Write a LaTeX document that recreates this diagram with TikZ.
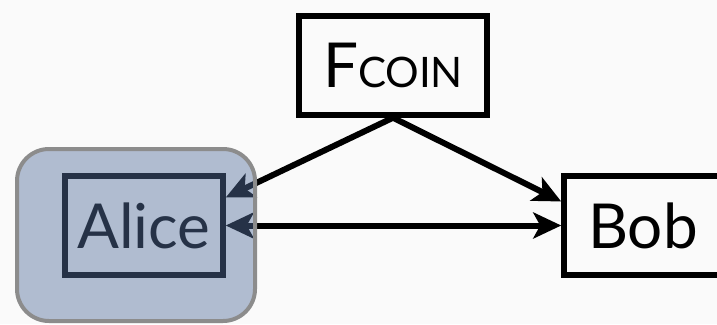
\documentclass[tikz,border=0pt]{standalone}
\usepackage{fontspec}
\setmainfont{Lato}
\usetikzlibrary{arrows.meta, positioning}

\definecolor{corruptblue}{RGB}{86,113,158}

\begin{document}
\begin{tikzpicture}[
    x=1pt, y=-1pt,
    party/.style={
        draw, rectangle, line width=5.5pt,
        minimum width=158pt, minimum height=99pt,
        inner sep=0pt, font=\fontsize{62}{62}\selectfont
    },
    func/.style={party, minimum width=188pt},
    corrupt/.style={
        draw=black!45, line width=4pt,
        fill=corruptblue, fill opacity=0.45,
        rectangle, rounded corners=32pt,
        minimum width=238pt, minimum height=172pt
    },
    msg/.style={
        line width=6pt,
        {Stealth[length=28pt, width=26pt, inset=7pt]}-{Stealth[length=28pt, width=26pt, inset=7pt]}
    },
]

\clip (0,0) rectangle (717,324);
\fill[black!2] (0,0) rectangle (717,324);

% Ideal functionality and the two parties
\node[func] (fcoin) at (393,65.5) {F\fontsize{42}{42}\selectfont COIN};
\node[party] (alice) at (144,225.5) {Alice};
\node[party] (bob) at (643,225.5) {Bob};

% Messages
\draw[msg] ([yshift=28pt]alice.east) -- (fcoin.south) -- ([yshift=24pt]bob.west);
\draw[msg] (alice.east) -- (bob.west);

% Corrupted party shading on top
\node[corrupt] (corrupted) at (136,235) {};

\end{tikzpicture}
\end{document}
